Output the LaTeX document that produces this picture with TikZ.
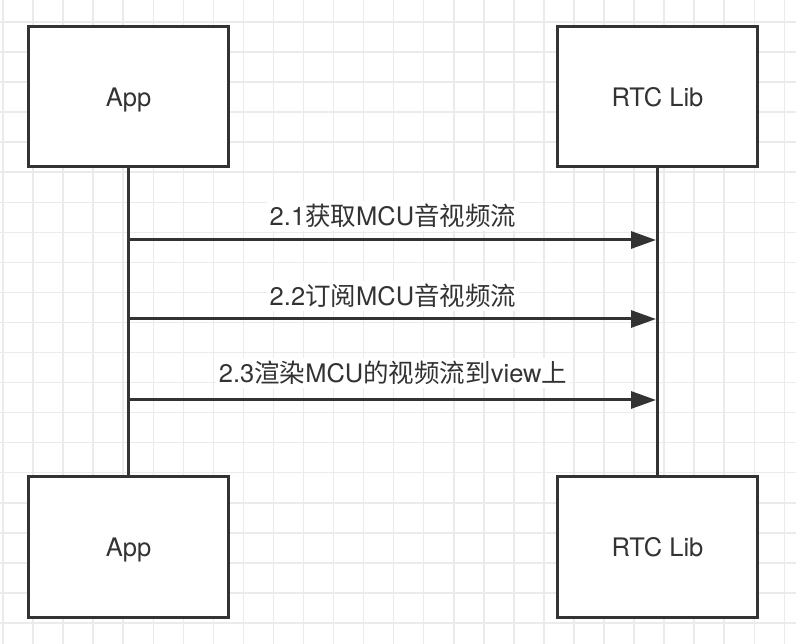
\documentclass[tikz,border=0pt]{standalone}
\usepackage{fontspec}
\setmainfont{TeX Gyre Heros}
\newfontfamily\cjk{Noto Sans CJK SC}
\usetikzlibrary{arrows.meta}
\definecolor{ink}{HTML}{333333}
\definecolor{gridc}{HTML}{EBEBEB}

\begin{document}
\begin{tikzpicture}[x=1pt,y=-1pt,
    box/.style={draw=ink, line width=3pt, fill=white, minimum width=200pt, minimum height=140pt,
        text=ink, text depth=0pt, font=\fontsize{25.5}{30}\selectfont},
    life/.style={draw=ink, line width=3pt},
    msg/.style={draw=ink, line width=3pt, -{Triangle[length=25pt,width=17pt]}, shorten >=1.5pt},
    lbl/.style={fill=white, text=ink, inner sep=3pt, font=\fontsize{25.5}{30}\selectfont}]
    \useasboundingbox (0,0) rectangle (796,644);
    \fill[white] (0,0) rectangle (796,644);
    \foreach \i in {0,...,26} \draw[gridc, line width=1.5pt] ({3+30.05*\i},0) -- ++(0,644);
    \foreach \j in {0,...,20} \draw[gridc, line width=1.5pt] (0,{22+30.05*\j}) -- ++(796,0);
    \draw[life] (128.5,166) -- (128.5,477);
    \draw[life] (657.5,166) -- (657.5,477);
    \node[box] (apptop) at (128.5,97) {App};
    \node[box] (libtop) at (657.5,97) {RTC Lib};
    \node[box] (appbot) at (128.5,547) {App};
    \node[box] (libbot) at (657.5,547) {RTC Lib};
    \coordinate (m1) at (apptop.south |- 0,240);
    \coordinate (m2) at (apptop.south |- 0,319);
    \coordinate (m3) at (apptop.south |- 0,400);
    \draw[msg] (m1) -- (m1 -| libtop.south) node[lbl, midway, yshift=24pt] {2.1{\cjk 获取}MCU{\cjk 音视频流}};
    \draw[msg] (m2) -- (m2 -| libtop.south) node[lbl, midway, yshift=23pt] {2.2{\cjk 订阅}MCU{\cjk 音视频流}};
    \draw[msg] (m3) -- (m3 -| libtop.south) node[lbl, midway, yshift=27pt] {2.3{\cjk 渲染}MCU{\cjk 的视频流到}view{\cjk 上}};
\end{tikzpicture}
\end{document}
